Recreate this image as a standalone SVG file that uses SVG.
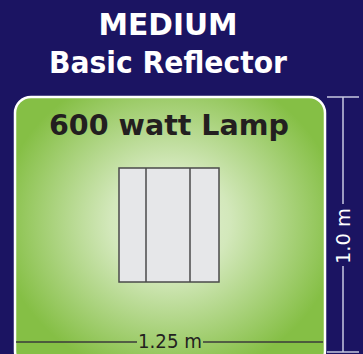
<svg xmlns="http://www.w3.org/2000/svg" width="363" height="354" viewBox="0 0 363 354">
  <defs>
    <radialGradient id="glow" gradientUnits="userSpaceOnUse" cx="170" cy="222" r="170" gradientTransform="translate(170 222) scale(1 0.92) translate(-170 -222)">
      <stop offset="0" stop-color="#e6f1d8"/>
      <stop offset="0.35" stop-color="#d3e8bb"/>
      <stop offset="1" stop-color="#85bf45"/>
    </radialGradient>
    <style>
      .title { font-family: "DejaVu Sans", Verdana, sans-serif; font-weight: bold; fill: #ffffff; text-anchor: middle; }
      .dim { font-family: "DejaVu Sans", Verdana, sans-serif; font-size: 20px; text-anchor: middle; }
      .lampcell { fill: #e6e7e9; stroke: #4a4a4a; stroke-width: 1.5; }
    </style>
  </defs>
  <rect x="0" y="0" width="363" height="354" fill="#1b1462"/>
  <g id="title">
    <text class="title" x="168" y="35" font-size="31" textLength="139" lengthAdjust="spacingAndGlyphs">MEDIUM</text>
    <text class="title" x="168" y="73" font-size="31" textLength="238" lengthAdjust="spacingAndGlyphs">Basic Reflector</text>
  </g>
  <g id="panel">
    <rect x="15" y="97" width="310" height="270" rx="16" ry="16" fill="url(#glow)" stroke="#ffffff" stroke-width="2.5"/>
    <text x="169" y="135" font-family="'DejaVu Sans', Verdana, sans-serif" font-weight="bold" font-size="28" fill="#231f20" text-anchor="middle" textLength="240" lengthAdjust="spacingAndGlyphs">600 watt Lamp</text>
  </g>
  <g id="lamp">
    <rect class="lampcell" x="119" y="168" width="100" height="114"/>
    <line x1="146" y1="168" x2="146" y2="282" stroke="#4a4a4a" stroke-width="1.5"/>
    <line x1="190" y1="168" x2="190" y2="282" stroke="#4a4a4a" stroke-width="1.5"/>
  </g>
  <g id="connectors">
    <g id="width-dim" stroke="#3a3a3a" stroke-width="1.5">
      <line x1="16" y1="342" x2="137" y2="342"/>
      <line x1="203" y1="342" x2="323" y2="342"/>
    </g>
    <g id="height-dim" stroke="#c9c8e2" stroke-width="1.5">
      <line x1="327" y1="97" x2="359" y2="97"/>
      <line x1="327" y1="352" x2="359" y2="352"/>
      <line x1="343" y1="97" x2="343" y2="204"/>
      <line x1="343" y1="266" x2="343" y2="352"/>
    </g>
  </g>
  <g id="labels">
    <text class="dim" x="170" y="348" fill="#231f20" textLength="64" lengthAdjust="spacingAndGlyphs">1.25 m</text>
    <text class="dim" transform="translate(350 236) rotate(-90)" x="0" y="0" fill="#ffffff" textLength="56" lengthAdjust="spacingAndGlyphs">1.0 m</text>
  </g>
</svg>
